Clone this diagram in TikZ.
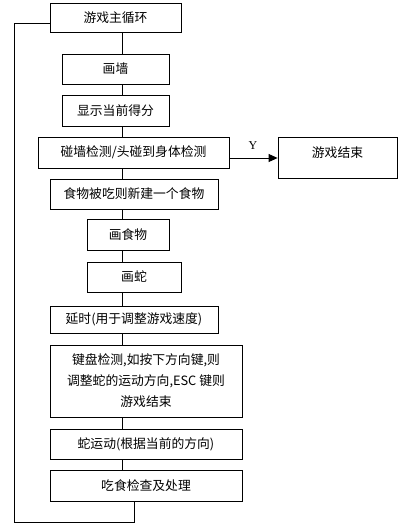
\documentclass[tikz,border=0pt]{standalone}
\usepackage{fontspec}
\newfontfamily\cjk{Noto Sans CJK SC}
\setmainfont{Liberation Serif}
\usetikzlibrary{arrows.meta}
\tikzset{
  box/.style={draw, line width=0.8pt, inner sep=0pt, align=center, font=\cjk\fontsize{12.8}{21}\selectfont},
  conn/.style={line width=0.8pt},
}
\begin{document}
\begin{tikzpicture}[x=1pt,y=-1pt]
\useasboundingbox (0,0) rectangle (403,528);
\node[box, minimum width=131, minimum height=29] (main) at (115.5,17.5) {游戏主循环};
\node[box, minimum width=107, minimum height=30] (wall) at (115.5,69) {画墙};
\node[box, minimum width=107, minimum height=31] (score) at (115.5,110.5) {显示当前得分};
\node[box, minimum width=191, minimum height=31] (coll) at (133.5,152.5) {碰墙检测/头碰到身体检测};
\node[box, minimum width=119, text height=20, text depth=21, text width=119] (over) at (337.5,157.5) {游戏结束};
\node[box, minimum width=168, minimum height=30] (food) at (134,194) {食物被吃则新建一个食物};
\node[box, minimum width=82, minimum height=31] (drawfood) at (128,234.5) {画食物};
\node[box, minimum width=94, minimum height=30] (snake) at (134,277) {画蛇};
\node[box, minimum width=168, minimum height=27] (delay) at (134,319.5) {延时(用于调整游戏速度)};
\node[box, minimum width=192, minimum height=72] (key) at (146,381) {键盘检测,如按下方向键,则\\调整蛇的运动方向,ESC 键则\\游戏结束};
\node[box, minimum width=192, minimum height=30] (move) at (146,444) {蛇运动(根据当前的方向)};
\node[box, minimum width=192, minimum height=31] (eat) at (146,485.5) {吃食检查及处理};
\coordinate (xl) at (122,0);
\coordinate (xe) at (134,0);
\coordinate (lb) at (14,522);
\coordinate (lt) at (14,23);
\coordinate (ay) at (0,158);
\draw[conn] (main.south -| xl) -- (wall.north -| xl);
\draw[conn] (wall.south -| xl) -- (score.north -| xl);
\draw[conn] (score.south -| xl) -- (coll.north -| xl);
\draw[conn] (coll.south -| xl) -- (food.north -| xl);
\draw[conn] (food.south -| xl) -- (drawfood.north -| xl);
\draw[conn] (drawfood.south -| xl) -- (snake.north -| xl);
\draw[conn] (snake.south -| xl) -- (delay.north -| xl);
\draw[conn] (delay.south -| xl) -- (key.north -| xl);
\draw[conn] (key.south -| xl) -- (move.north -| xl);
\draw[conn] (move.south -| xl) -- (eat.north -| xl);
\draw[conn] (eat.south -| xe) |- (lb) |- (main.west |- lt);
\draw[conn, -{Triangle[length=9pt,width=8pt]}] (coll.east |- ay) -- (over.west |- ay);
\node[font=\fontsize{12}{12}\selectfont] (ylab) at (253,146) {Y};
\end{tikzpicture}
\end{document}
